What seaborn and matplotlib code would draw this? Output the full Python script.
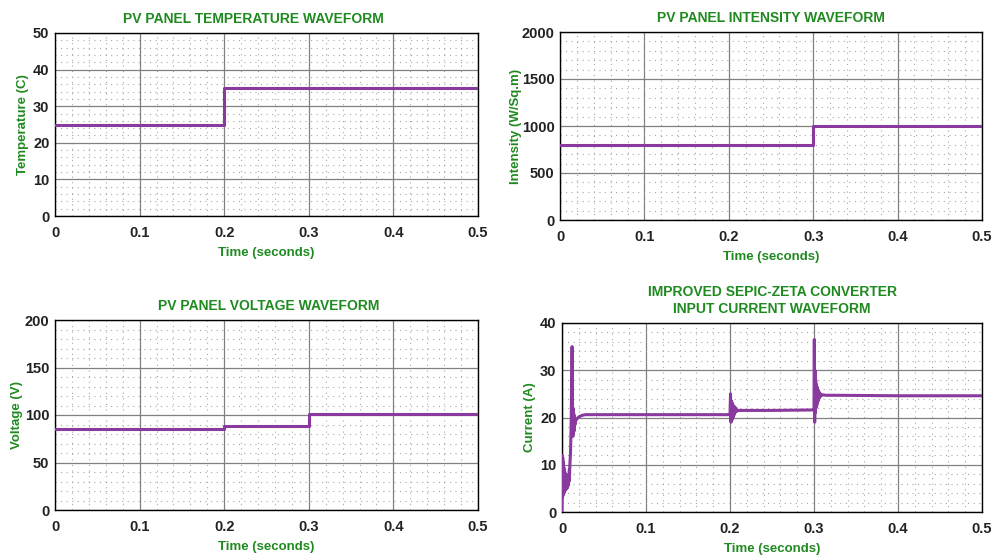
import matplotlib
matplotlib.use("Agg")
import matplotlib.pyplot as plt
import seaborn as sns
import pandas as pd
from matplotlib.ticker import MultipleLocator

sns.set_theme(style="white")
plt.rcParams['font.family'] = ['Liberation Sans', 'DejaVu Sans']

# ---------------- data ----------------
t_temp = [0.0, 0.2, 0.2, 0.5]
temp = [25, 25, 35, 35]

t_int = [0.0, 0.3, 0.3, 0.5]
intensity = [800, 800, 1000, 1000]

t_volt = [0.0, 0.2, 0.2, 0.3, 0.3, 0.5]
volt = [85, 85, 88.5, 88.5, 101.5, 101.5]

t_cur = [0.0, 0.0003, 0.0006, 0.0009, 0.0012, 0.0015, 0.0018, 0.0021, 0.0024, 0.0027,
         0.003, 0.0033, 0.0036, 0.0039, 0.0042, 0.0045, 0.0048, 0.0051, 0.0054, 0.0057,
         0.006, 0.0063, 0.0066, 0.0069, 0.0072, 0.0075, 0.0078, 0.0081, 0.0084, 0.0087,
         0.009, 0.0095, 0.010, 0.0105, 0.011, 0.0115, 0.012, 0.0123, 0.0126, 0.0129,
         0.0132, 0.0135, 0.0138, 0.0141, 0.0144, 0.0147, 0.015, 0.0155, 0.016, 0.017,
         0.018, 0.02, 0.022, 0.025, 0.028, 0.032, 0.04, 0.06, 0.1, 0.15, 0.199,
         0.2, 0.2006, 0.2012, 0.2018, 0.2024, 0.203, 0.2036, 0.2042, 0.2048, 0.2054,
         0.206, 0.207, 0.208, 0.21, 0.215, 0.25, 0.299,
         0.3, 0.3004, 0.3008, 0.3012, 0.3016, 0.302, 0.3024, 0.3028, 0.3032, 0.3036,
         0.304, 0.3045, 0.305, 0.3055, 0.306, 0.307, 0.308, 0.31, 0.315, 0.33, 0.4, 0.5]
i_cur = [0.0, 12.0, 3.0, 11.5, 3.5, 10.5, 4.0, 9.5, 4.0, 9.0,
         4.5, 8.5, 4.5, 8.0, 5.0, 8.0, 5.0, 7.5, 5.0, 7.5,
         5.0, 7.5, 5.5, 7.0, 5.5, 7.5, 6.0, 8.0, 6.5, 9.0,
         8.0, 10.5, 12.0, 15.0, 20.0, 28.0, 35.0, 30.0, 20.0, 16.0,
         22.0, 16.5, 21.0, 17.0, 20.5, 17.5, 19.5, 18.5, 19.2, 19.5,
         19.8, 20.1, 20.3, 20.5, 20.6, 20.6, 20.6, 20.6, 20.6, 20.6, 20.6,
         20.6, 25.0, 19.0, 23.5, 19.5, 23.0, 20.0, 22.5, 20.5, 22.3,
         21.0, 22.0, 21.3, 21.5, 21.5, 21.5, 21.6,
         21.6, 36.5, 19.0, 30.0, 21.0, 28.0, 22.0, 27.0, 22.5, 26.5,
         23.0, 26.0, 23.5, 25.5, 24.0, 25.2, 24.5, 24.8, 24.7, 24.7, 24.6, 24.6]

PURPLE = '#8a3a9e'
GREEN = '#1f8a1f'

fig = plt.figure(figsize=(9.96, 5.56), dpi=100)
W, H = 996, 556

def add_ax(x0, x1, ytop, ybot):
    return fig.add_axes([x0 / W, 1 - ybot / H, (x1 - x0) / W, (ybot - ytop) / H])

axes_specs = [
    dict(box=(55, 478, 33, 216), t=t_temp, y=temp, ylim=(0, 50), ymaj=10, ymin=2,
         title='PV PANEL TEMPERATURE WAVEFORM', title_x=0.468, ylabel='Temperature (C)', ylab_x=-0.076),
    dict(box=(560, 982, 32, 220), t=t_int, y=intensity, ylim=(0, 2000), ymaj=500, ymin=100,
         title='PV PANEL INTENSITY WAVEFORM', title_x=0.5, ylabel='Intensity (W/Sq.m)', ylab_x=-0.104),
    dict(box=(55, 478, 320, 510), t=t_volt, y=volt, ylim=(0, 200), ymaj=50, ymin=10,
         title='PV PANEL VOLTAGE WAVEFORM', title_x=0.505, ylabel='Voltage (V)', ylab_x=-0.09),
    dict(box=(562, 982, 323, 512), t=t_cur, y=i_cur, ylim=(0, 40), ymaj=10, ymin=2,
         title='IMPROVED SEPIC-ZETA CONVERTER\nINPUT CURRENT WAVEFORM', title_x=0.5,
         ylabel='Current (A)', ylab_x=-0.076),
]

for spec in axes_specs:
    ax = add_ax(*spec['box'])
    df = pd.DataFrame({'t': spec['t'], 'v': spec['y']})
    sns.lineplot(data=df, x='t', y='v', ax=ax, color=PURPLE, linewidth=2.2,
                 sort=False, estimator=None, zorder=5)
    ax.set_xlim(0, 0.5)
    ax.set_ylim(*spec['ylim'])
    ax.xaxis.set_major_locator(MultipleLocator(0.1))
    ax.xaxis.set_minor_locator(MultipleLocator(0.02))
    ax.yaxis.set_major_locator(MultipleLocator(spec['ymaj']))
    ax.yaxis.set_minor_locator(MultipleLocator(spec['ymin']))
    ax.set_xticks([0, 0.1, 0.2, 0.3, 0.4, 0.5])
    ax.set_xticklabels(['0', '0.1', '0.2', '0.3', '0.4', '0.5'])
    ax.grid(which='major', color='#808080', linewidth=0.9, linestyle='-')
    ax.grid(which='minor', color='#a8a8a8', linewidth=0.8, linestyle=(0, (1, 4)))
    ax.set_axisbelow(True)
    ax.tick_params(which='both', length=0, labelsize=10.5)
    ax.tick_params(axis='x', pad=7)
    ax.tick_params(axis='y', pad=4)
    for lab in ax.get_xticklabels() + ax.get_yticklabels():
        lab.set_fontweight('bold')
        lab.set_color('#222222')
    for sp in ax.spines.values():
        sp.set_color('black')
        sp.set_linewidth(1.0)
    ax.set_title(spec['title'], color=GREEN, fontweight='bold', fontsize=10, pad=7,
                 linespacing=1.3, x=spec['title_x'])
    ax.set_xlabel('Time (seconds)', color=GREEN, fontweight='bold', fontsize=9.5, labelpad=5)
    ax.set_ylabel(spec['ylabel'], color=GREEN, fontweight='bold', fontsize=9.5, va='center')
    ax.yaxis.set_label_coords(spec['ylab_x'], 0.5)

fig.savefig('out.png', dpi=100, facecolor='white')
